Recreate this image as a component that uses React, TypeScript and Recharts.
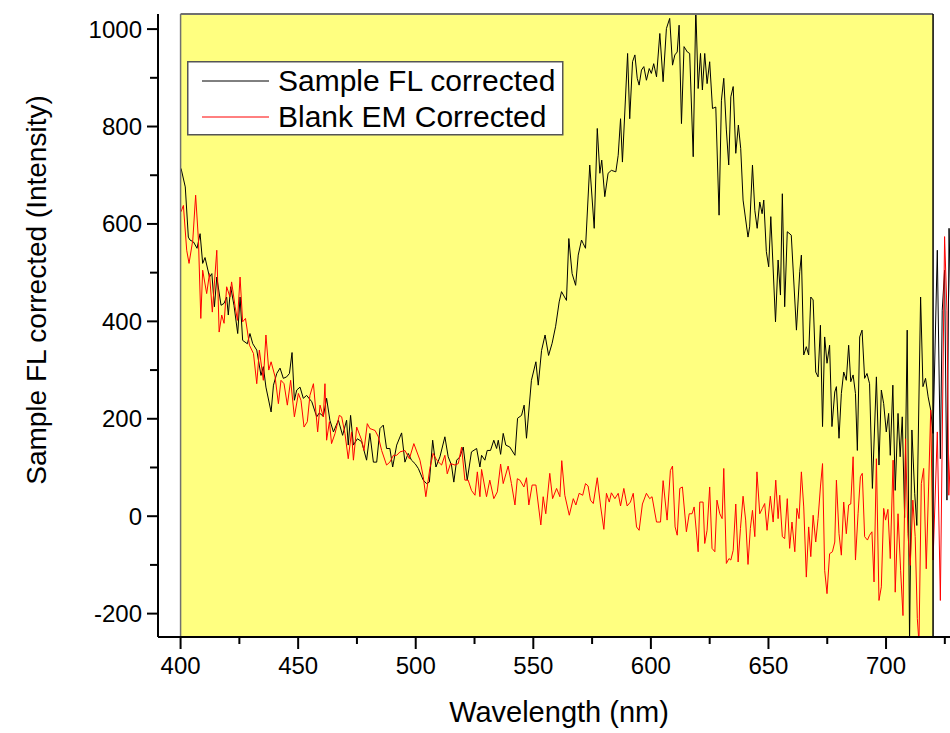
import React from "react";
import {
  LineChart,
  Line,
  XAxis,
  YAxis,
  ReferenceArea,
  ReferenceLine,
  Legend,
} from "recharts";

// Sample FL corrected (black) — wavelength (nm) / intensity
const sampleNm = [
  400.2, 402, 403.3, 404, 405.5, 407, 408.3, 409.4, 410.4, 412.3, 413.3, 414.4, 415.4, 417.2, 418.5, 419.6,
  420.3, 421.3, 422.7, 424.3, 425.3, 426.4, 428.4, 429.5, 430.7, 432.4, 434.2, 435.2, 436.3, 438.5, 439.5,
  440.9, 442.3, 443.7, 445.1, 446.3, 447.4, 448.4, 449.4, 450.8, 452.2, 453.6, 455.8, 457.9, 459, 460.7,
  462.1, 463.5, 465, 467.1, 468.9, 470.6, 471.3, 472.3, 473.5, 475.2, 477, 479.1, 480.5, 482, 483.4, 484.8,
  486.2, 487.6, 489, 490.2, 491.9, 494, 495.4, 496.8, 498.2, 499.7, 501.1, 503.2, 504.6, 505.8, 507.2,
  508.6, 510.3, 512.4, 513.8, 515.2, 516.2, 517.4, 518.8, 520.2, 521.9, 523.7, 525.9, 527.3, 528, 529.4,
  530.4, 531.8, 533.2, 534.4, 535.1, 536.1, 537.2, 538.3, 540, 542.2, 543.3, 545, 546.1, 547.1, 549.2,
  551.1, 552.1, 553.5, 555, 556.5, 558, 559.5, 561, 562, 564.1, 565.1, 566.5, 568, 569.1, 570.5, 571.2,
  572.2, 574, 575.9, 577.2, 578.3, 579.1, 580.4, 581.8, 583.2, 585.1, 586.1, 587.1, 587.9, 590.1, 591,
  592.2, 593.2, 594.2, 595, 596, 597, 598.1, 599.3, 600.2, 601.2, 602.4, 603.8, 605.2, 606.6, 608, 609.2,
  610.2, 611.2, 612, 613, 614.1, 615.5, 616.5, 618, 619.1, 620.1, 621.1, 621.9, 622.9, 623.9, 625, 626.2,
  627.6, 629, 630, 631, 632.1, 633.1, 634, 635, 636.1, 637.2, 638.2, 639.2, 641.3, 642, 643.2, 644.2,
  645.2, 646.3, 647.3, 648, 649.1, 650.1, 651, 653, 654.1, 655.1, 655.9, 656.9, 658, 659.7, 661.9, 663.3,
  664, 665, 666.1, 667.1, 668, 669, 670.1, 671.1, 672.1, 673, 673.9, 674.9, 676, 677, 678.2, 678.9, 680,
  681, 682, 683.1, 684.1, 685, 686, 687, 687.8, 688.8, 689.8, 690.9, 691.9, 693, 694.2, 695.9, 697, 698,
  699, 700.1, 701.1, 701.8, 702.9, 703.9, 705.1, 706, 706.9, 707.9, 709, 710, 711, 712.2, 713.1, 714.7,
  715.7, 716.8, 717.9, 719, 720, 721.8, 723.1, 723.9, 724.9, 725.9, 726.8, 728,
];
const sampleFL = [
  714, 676, 573, 567, 563, 550, 580, 519, 531, 491, 498, 430, 491, 433, 437, 450,
  413, 471, 433, 375, 450, 361, 354, 375, 354, 341, 289, 307, 265, 214, 269,
  293, 304, 283, 286, 293, 336, 238, 259, 265, 242, 248, 235, 204, 212, 205,
  242, 197, 173, 197, 166, 197, 146, 207, 146, 159, 153, 115, 170, 111, 111, 180,
  187, 139, 139, 101, 146, 171, 111, 129, 115, 108, 98, 74, 67, 70, 156,
  101, 122, 163, 122, 105, 70, 115, 122, 142, 74, 132, 139, 101, 125, 115,
  135, 135, 156, 139, 156, 127, 170, 146, 142, 125, 201, 207, 228, 160, 279,
  317, 269, 340, 372, 330, 355, 390, 440, 461, 443, 570, 498, 474, 536, 567, 560,
  550, 721, 591, 796, 704, 731, 656, 704, 710, 707, 741, 816, 727, 950, 816,
  933, 947, 899, 885, 916, 923, 895, 919, 909, 929, 902, 991, 892, 1001, 1022, 926,
  947, 953, 1008, 806, 964, 953, 950, 738, 1045, 878, 950, 875, 950, 888, 933, 837,
  840, 618, 854, 899, 793, 721, 861, 882, 745, 803, 755, 649, 573, 594, 721, 628,
  591, 645, 621, 649, 543, 512, 615, 399, 526, 454, 662, 430, 584, 577, 382, 502,
  536, 331, 348, 331, 450, 444, 296, 286, 392, 184, 368, 314, 351, 184, 255, 266, 160,
  252, 296, 279, 351, 276, 290, 252, 135, 368, 382, 283, 293, 272, 57, 286, 105, 259,
  231, 173, 211, 125, 269, 53, 211, 122, 204, -3, 382, -260, 177, 46, -19, 450,
  266, 283, 245, 218, 170, 546, 118, 423, 505, 33, 591, 300,
];

// Blank EM Corrected (red)
const blankNm = [
  400.2, 401.2, 402.6, 403.6, 405.2, 406.4, 407.6, 408.6, 409.4, 411.1, 412.3, 413.5, 415.4, 416.4, 417.5,
  418.5, 419.6, 421, 421.7, 423.2, 424.2, 425.3, 426.4, 427.6, 429.3, 431, 432.4, 433.5, 435.2, 436.3,
  437.5, 438.5, 440.2, 441.6, 442.7, 444, 445.4, 446.8, 448.4, 450.1, 451.2, 452.5, 453.9, 455, 456.5,
  458.3, 459.3, 460.7, 461.4, 462.1, 463.3, 464.2, 465.7, 467.5, 468.5, 469.9, 471.3, 472.7, 473.5, 474.9,
  477, 478, 479.4, 480.5, 482.7, 484.1, 485.5, 487.6, 489, 490.5, 491.9, 493.3, 495.4, 497.3, 499.2,
  501.8, 503.2, 504.3, 506, 507.4, 508.9, 511, 512.4, 513.4, 514.8, 516.7, 518.1, 519.5, 520.9, 522.3,
  523.7, 525.2, 526.2, 527.3, 528, 530.1, 531.5, 533.2, 534.7, 536.1, 537.2, 539.3, 540.7, 542.2, 543.2,
  544.3, 546, 547.1, 548.1, 549.5, 551.1, 553.2, 554.2, 555.3, 557, 558.2, 559.9, 561.3, 562.1, 563.4,
  565.3, 567, 568.1, 569.5, 571, 572.2, 573.3, 574.3, 575.5, 577.2, 578.6, 580, 581.1, 582.3, 583.2,
  584.7, 586.1, 587.1, 588.5, 589.9, 591.3, 592.5, 593.9, 595, 596.4, 598.1, 599.5, 600.5, 602.4, 604.1,
  605.2, 606.9, 608.3, 609.2, 610.3, 611.2, 612.3, 613.4, 615.1, 616.3, 617.5, 618.4, 620.1, 620.8, 622.2,
  622.9, 623.9, 625, 626, 627.2, 628.1, 629.3, 630.3, 631, 632.1, 633.2, 634, 635, 636.1, 637.1, 638.1,
  639.2, 640.3, 641.3, 642.3, 643.2, 644.2, 645.1, 646.3, 647.4, 648.4, 649.4, 650.8, 652, 653.1, 654.1,
  654.8, 655.9, 656.9, 658, 659, 660, 661.2, 662.1, 663, 664, 665, 666.1, 667.1, 668, 669, 670.1, 671.1,
  672.1, 673, 673.9, 674.9, 676, 677.2, 678.2, 678.9, 680, 681, 682, 683.1, 684.1, 685, 686, 687, 688.1,
  689.1, 689.9, 690.9, 692.1, 693, 694, 694.9, 695.9, 697, 698, 699, 699.8, 700.8, 701.8, 703, 703.9,
  705.1, 706.2, 707.2, 708.3, 709.3, 710.3, 711.4, 712.4, 713.3, 714, 715, 716, 717.1, 718.1, 719, 720,
  721.8, 723.1, 724.9, 725.9, 726.7, 728,
];
const blankEM = [
  625, 638, 546, 519, 567, 659, 567, 406, 505, 457, 498, 419, 546, 378, 413,
  396, 471, 450, 481, 430, 402, 491, 399, 406, 351, 334, 272, 341, 279, 372,
  300, 317, 286, 231, 279, 272, 228, 279, 204, 252, 238, 183, 194, 248, 272,
  173, 228, 204, 272, 156, 194, 149, 170, 207, 204, 170, 118, 173, 115, 183,
  156, 135, 190, 180, 176, 163, 135, 105, 111, 125, 125, 132, 135, 118, 149,
  115, 81, 40, 98, 129, 115, 105, 125, 87, 108, 105, 108, 142, 74, 74,
  53, 43, 91, 40, 96, 40, 74, 36, 50, 107, 67, 103, 67, 23, 77,
  74, 60, 79, 23, 64, 64, -18, 40, 5, 88, 36, 57, 40, 114, 43,
  2, 36, 23, 47, 43, 67, 62, 33, 26, 79, 21, -27, 47, 29, 48,
  36, 47, 21, 57, 21, 29, 47, -22, -29, 25, 47, 36, 40, -12, -12,
  73, -8, 94, 103, -22, -39, 57, 60, -32, 5, 5, 19, -73, 29, 29,
  -56, -29, 60, -66, -73, 33, 5, -5, 98, -97, -87, -90, -70, 25, -94, -25,
  41, -8, -99, -25, 12, -42, 91, 5, 16, 26, -29, 41, -12, 74, -5,
  43, -42, -46, 36, -66, -12, -73, 16, -5, 91, 19, -125, -22, -83, 2, -53, -5,
  60, 108, -111, -159, -77, -73, -53, 74, -36, -80, 29, -36, 23, 25, 122, -90, 5,
  81, 88, -42, -49, -39, -32, -135, 118, -173, -145, 16, -8, 14, -87, 115, -156,
  5, -111, -204, 159, -36, -101, 33, -42, -210, -260, 67, 98, -108, 60, 218, -90,
  173, -173, 574, 423, 43, 200,
];

const xTicks = [400, 425, 450, 475, 500, 525, 550, 575, 600, 625, 650, 675, 700, 725];
const yTicks = [-200, -100, 0, 100, 200, 300, 400, 500, 600, 700, 800, 900, 1000];

const sampleData = sampleNm.map((nm, i) => ({ nm, v: sampleFL[i] }));
const blankData = blankNm.map((nm, i) => ({ nm, v: blankEM[i] }));

const FONT = "'Liberation Sans', Arial, sans-serif";
const Y_MIN = -248;
const Y_MAX = 1031;

const XTick = (props: any) => {
  const { x, y, payload } = props;
  const major = payload.value % 50 === 0;
  return (
    <g>
      <line x1={x} x2={x} y1={y} y2={y + (major ? 12 : 7)} stroke="#000" strokeWidth={2} />
      {major && (
        <text x={x} y={y + 37} textAnchor="middle" fontSize={24} fontFamily={FONT} fill="#000">
          {payload.value}
        </text>
      )}
    </g>
  );
};

const YTick = (props: any) => {
  const { x, y, payload } = props;
  const major = payload.value % 200 === 0;
  return (
    <g>
      <line x1={x} x2={x - (major ? 11 : 8)} y1={y} y2={y} stroke="#000" strokeWidth={2} />
      {major && (
        <text x={x - 16} y={y + 8.5} textAnchor="end" fontSize={24} fontFamily={FONT} fill="#000">
          {payload.value}
        </text>
      )}
    </g>
  );
};

const XTitle = () => (
  <text x={559} y={722} textAnchor="middle" fontSize={29} fontFamily={FONT} fill="#000">
    Wavelength (nm)
  </text>
);

const YTitle = () => (
  <text
    x={36}
    y={290}
    transform="rotate(-90 36 290)"
    textAnchor="middle"
    dominantBaseline="central"
    fontSize={28}
    fontFamily={FONT}
    fill="#000"
  >
    Sample FL corrected (Intensity)
  </text>
);

const LegendBox = () => (
  <svg width={377} height={75} style={{ display: "block" }}>
    <rect x={0.75} y={0.75} width={375} height={73} fill="#fff" stroke="#555" strokeWidth={1.5} />
    <line x1={15} x2={82} y1={20} y2={20} stroke="#000" strokeWidth={1} />
    <text x={91} y={30} fontSize={30} fontFamily={FONT} fill="#000">
      Sample FL corrected
    </text>
    <line x1={15} x2={82} y1={56} y2={56} stroke="#ff0000" strokeWidth={1} />
    <text x={91} y={66} fontSize={30} fontFamily={FONT} fill="#000">
      Blank EM Corrected
    </text>
  </svg>
);

export default function App() {
  return (
    <div style={{ width: 950, height: 733, overflow: "hidden" }}>
      <style>{`body{margin:0;overflow:hidden;}`}</style>
      <LineChart width={950} height={733} margin={{ top: 14, right: 0, bottom: 0, left: 0 }}>
        <XAxis
          dataKey="nm"
          type="number"
          domain={[390.4, 727.2]}
          allowDataOverflow
          ticks={xTicks}
          interval={0}
          tickSize={0}
          tickMargin={0}
          tickLine={false}
          tick={<XTick />}
          height={96}
          axisLine={{ stroke: "#000", strokeWidth: 2 }}
          label={XTitle}
        />
        <YAxis
          type="number"
          domain={[Y_MIN, Y_MAX]}
          allowDataOverflow
          ticks={yTicks}
          interval={0}
          tickSize={0}
          tickMargin={0}
          tickLine={false}
          tick={<YTick />}
          width={158}
          axisLine={{ stroke: "#000", strokeWidth: 2 }}
          label={YTitle}
        />
        <ReferenceArea x1={400} x2={720} y1={Y_MIN} y2={Y_MAX} fill="#ffff80" fillOpacity={1} stroke="none" />
        <Line
          data={sampleData}
          dataKey="v"
          type="linear"
          stroke="#000"
          strokeWidth={1}
          dot={false}
          activeDot={false}
          isAnimationActive={false}
          name="Sample FL corrected"
        />
        <Line
          data={blankData}
          dataKey="v"
          type="linear"
          stroke="#ff0000"
          strokeWidth={1}
          dot={false}
          activeDot={false}
          isAnimationActive={false}
          name="Blank EM Corrected"
        />
        <ReferenceLine
          segment={[{ x: 400, y: Y_MAX }, { x: 720, y: Y_MAX }]}
          stroke="#707070"
          strokeWidth={2}
          ifOverflow="visible"
        />
        <ReferenceLine
          segment={[{ x: 400, y: Y_MIN }, { x: 400, y: Y_MAX }]}
          stroke="#707070"
          strokeWidth={1.5}
          ifOverflow="visible"
        />
        <ReferenceLine
          segment={[{ x: 720, y: Y_MIN }, { x: 720, y: Y_MAX }]}
          stroke="#000"
          strokeWidth={1.5}
          ifOverflow="visible"
        />
        <Legend
          layout="horizontal"
          verticalAlign="middle"
          align="center"
          content={LegendBox}
          wrapperStyle={{ left: 187, top: 61, width: 377, height: 75 }}
        />
      </LineChart>
    </div>
  );
}
